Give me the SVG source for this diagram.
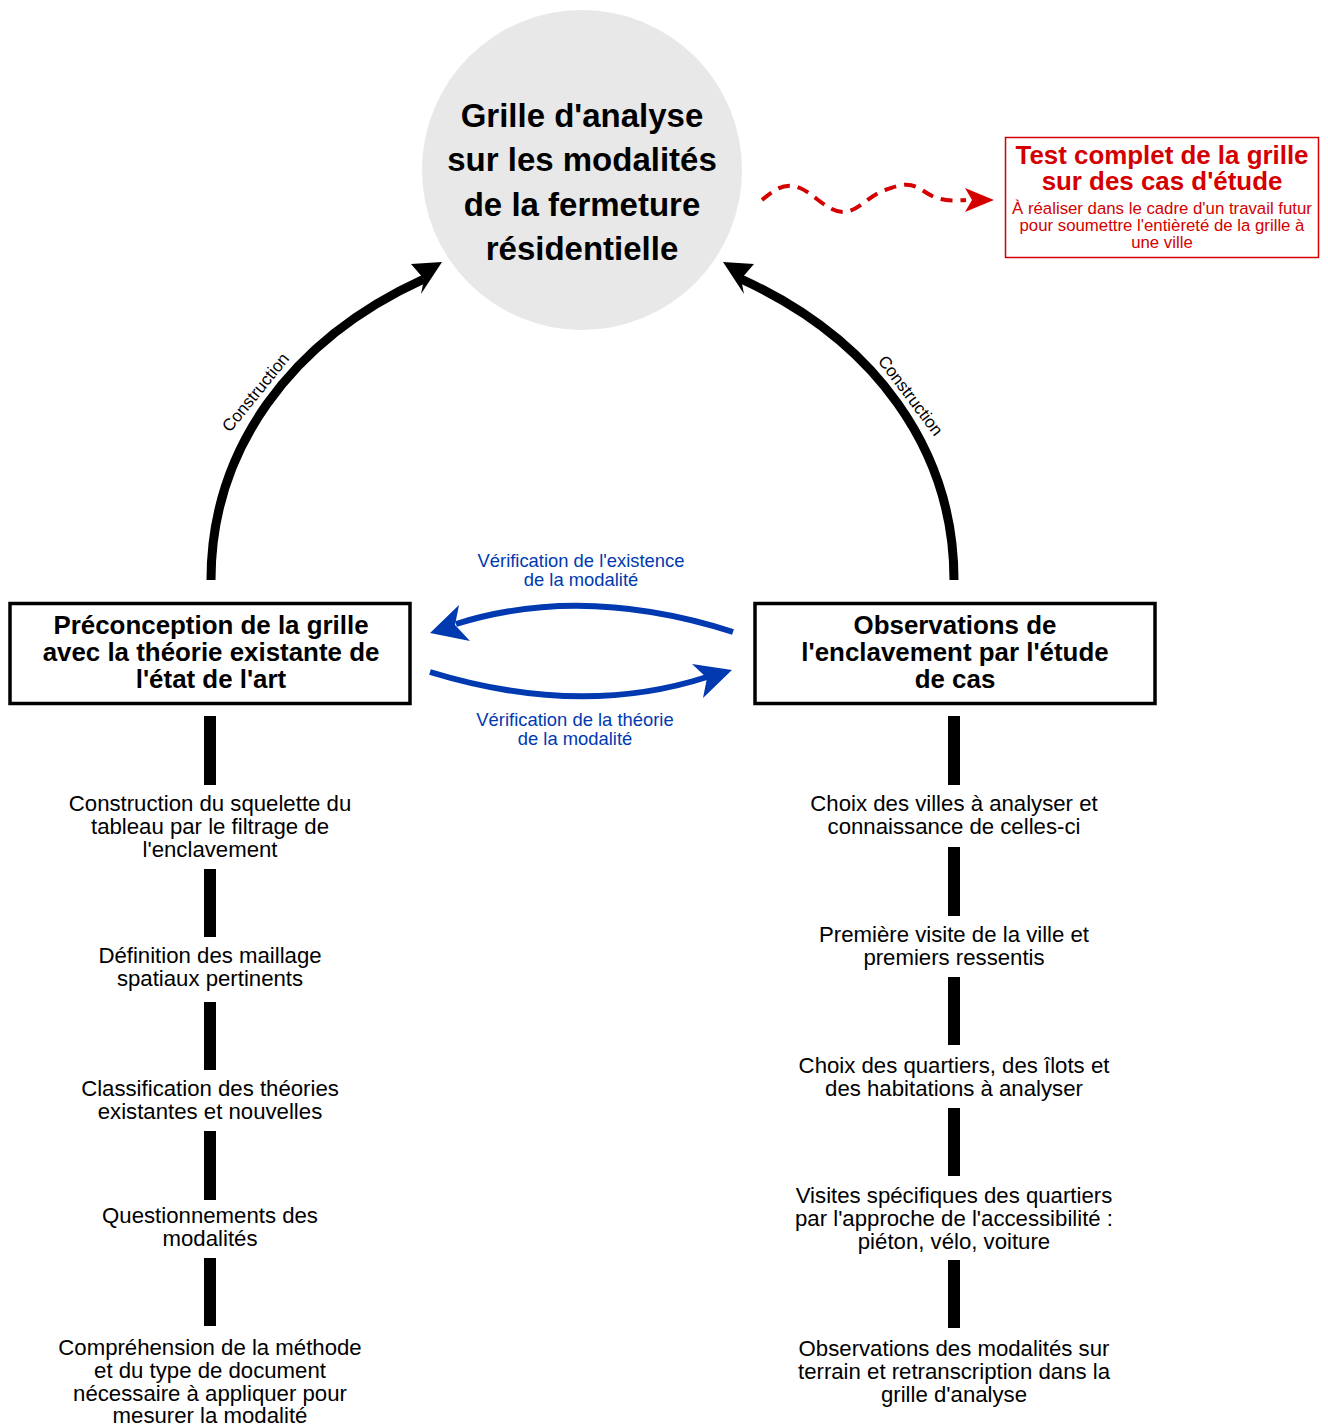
<svg xmlns="http://www.w3.org/2000/svg" width="1328" height="1425" viewBox="0 0 1328 1425">
<style>
text{font-family:"Liberation Sans",Arial,sans-serif;text-anchor:middle}
.t{font-size:22.2px;fill:#000}
.hb{font-size:25.9px;font-weight:bold;fill:#000}
.c{font-size:33px;font-weight:bold;fill:#000}
.bl{font-size:18.4px;fill:#0039b0}
.lab{font-size:17px;fill:#000}
.rt{font-size:25.9px;font-weight:bold;fill:#d40000}
.rs{font-size:16.8px;fill:#d40000}
.bar{fill:#000}
</style>
<rect width="1328" height="1425" fill="#fff"/>
<g id="connectors">
  <path d="M211,580 C211,450 290,340 424,279" fill="none" stroke="#000" stroke-width="9"/>
  <polygon points="442,262 411,264 424,279 421,294" fill="#000"/>
  <path d="M954,580 C954,450 875,340 741,279" fill="none" stroke="#000" stroke-width="9"/>
  <polygon points="723,262 754,264 741,279 744,294" fill="#000"/>
  <text class="lab" transform="translate(260,396) rotate(-51)">Construction</text>
  <text class="lab" transform="translate(906,399) rotate(53)">Construction</text>
  <path d="M733,632 Q583,584 456,624" fill="none" stroke="#0039b0" stroke-width="6"/>
  <polygon points="430,633 459,605 455,625 470,641" fill="#0039b0"/>
  <path d="M430,672 Q580,718 707,677" fill="none" stroke="#0039b0" stroke-width="6"/>
  <polygon points="732,670 692,664 707,678 703,698" fill="#0039b0"/>
  <text class="bl" x="581" y="567">Vérification de l'existence</text>
  <text class="bl" x="581" y="586">de la modalité</text>
  <text class="bl" x="575" y="726">Vérification de la théorie</text>
  <text class="bl" x="575" y="745">de la modalité</text>
  <path d="M762,200 C776,188 786,182 800,188 S828,212 843,212 S868,196 885,190 S910,182 922,190 S942,202 966,200" fill="none" stroke="#d40000" stroke-width="4" stroke-dasharray="12 8"/>
  <polygon points="994,200 965,188 972,200 965,212" fill="#d40000"/>
  <rect class="bar" x="204" y="716" width="12" height="69"/>
  <rect class="bar" x="204" y="869" width="12" height="68"/>
  <rect class="bar" x="204" y="1002" width="12" height="68"/>
  <rect class="bar" x="204" y="1131" width="12" height="69"/>
  <rect class="bar" x="204" y="1258" width="12" height="68"/>
  <rect class="bar" x="948" y="716" width="12" height="69"/>
  <rect class="bar" x="948" y="847" width="12" height="69"/>
  <rect class="bar" x="948" y="977" width="12" height="68"/>
  <rect class="bar" x="948" y="1108" width="12" height="68"/>
  <rect class="bar" x="948" y="1260" width="12" height="68"/>
</g>
<g id="grille">
  <circle cx="582" cy="170" r="160" fill="#e8e8e8"/>
  <text class="c" x="582" y="127">Grille d'analyse</text>
  <text class="c" x="582" y="171">sur les modalités</text>
  <text class="c" x="582" y="216">de la fermeture</text>
  <text class="c" x="582" y="260">résidentielle</text>
</g>
<g id="test">
  <rect x="1005.5" y="137.5" width="313" height="120" fill="#fff" stroke="#d40000" stroke-width="1.5"/>
  <text class="rt" x="1162" y="164">Test complet de la grille</text>
  <text class="rt" x="1162" y="190">sur des cas d'étude</text>
  <text class="rs" x="1162" y="214">À réaliser dans le cadre d'un travail futur</text>
  <text class="rs" x="1162" y="231">pour soumettre l'entièreté de la grille à</text>
  <text class="rs" x="1162" y="248">une ville</text>
</g>
<g id="preconception">
  <rect x="10" y="603.5" width="400" height="100" fill="#fff" stroke="#000" stroke-width="3.5"/>
  <text class="hb" x="211" y="634">Préconception de la grille</text>
  <text class="hb" x="211" y="661">avec la théorie existante de</text>
  <text class="hb" x="211" y="688">l'état de l'art</text>
</g>
<g id="observations">
  <rect x="755" y="603.5" width="400" height="100" fill="#fff" stroke="#000" stroke-width="3.5"/>
  <text class="hb" x="955" y="634">Observations de</text>
  <text class="hb" x="955" y="661">l'enclavement par l'étude</text>
  <text class="hb" x="955" y="688">de cas</text>
</g>
<g id="l1"><text class="t" x="210" y="811">Construction du squelette du</text><text class="t" x="210" y="834">tableau par le filtrage de</text><text class="t" x="210" y="857">l'enclavement</text></g>
<g id="l2"><text class="t" x="210" y="963">Définition des maillage</text><text class="t" x="210" y="986">spatiaux pertinents</text></g>
<g id="l3"><text class="t" x="210" y="1096">Classification des théories</text><text class="t" x="210" y="1119">existantes et nouvelles</text></g>
<g id="l4"><text class="t" x="210" y="1223">Questionnements des</text><text class="t" x="210" y="1246">modalités</text></g>
<g id="l5"><text class="t" x="210" y="1355">Compréhension de la méthode</text><text class="t" x="210" y="1378">et du type de document</text><text class="t" x="210" y="1401">nécessaire à appliquer pour</text><text class="t" x="210" y="1423">mesurer la modalité</text></g>
<g id="r1"><text class="t" x="954" y="811">Choix des villes à analyser et</text><text class="t" x="954" y="834">connaissance de celles-ci</text></g>
<g id="r2"><text class="t" x="954" y="942">Première visite de la ville et</text><text class="t" x="954" y="965">premiers ressentis</text></g>
<g id="r3"><text class="t" x="954" y="1073">Choix des quartiers, des îlots et</text><text class="t" x="954" y="1096">des habitations à analyser</text></g>
<g id="r4"><text class="t" x="954" y="1203">Visites spécifiques des quartiers</text><text class="t" x="954" y="1226">par l'approche de l'accessibilité :</text><text class="t" x="954" y="1249">piéton, vélo, voiture</text></g>
<g id="r5"><text class="t" x="954" y="1356">Observations des modalités sur</text><text class="t" x="954" y="1379">terrain et retranscription dans la</text><text class="t" x="954" y="1402">grille d'analyse</text></g>
</svg>
